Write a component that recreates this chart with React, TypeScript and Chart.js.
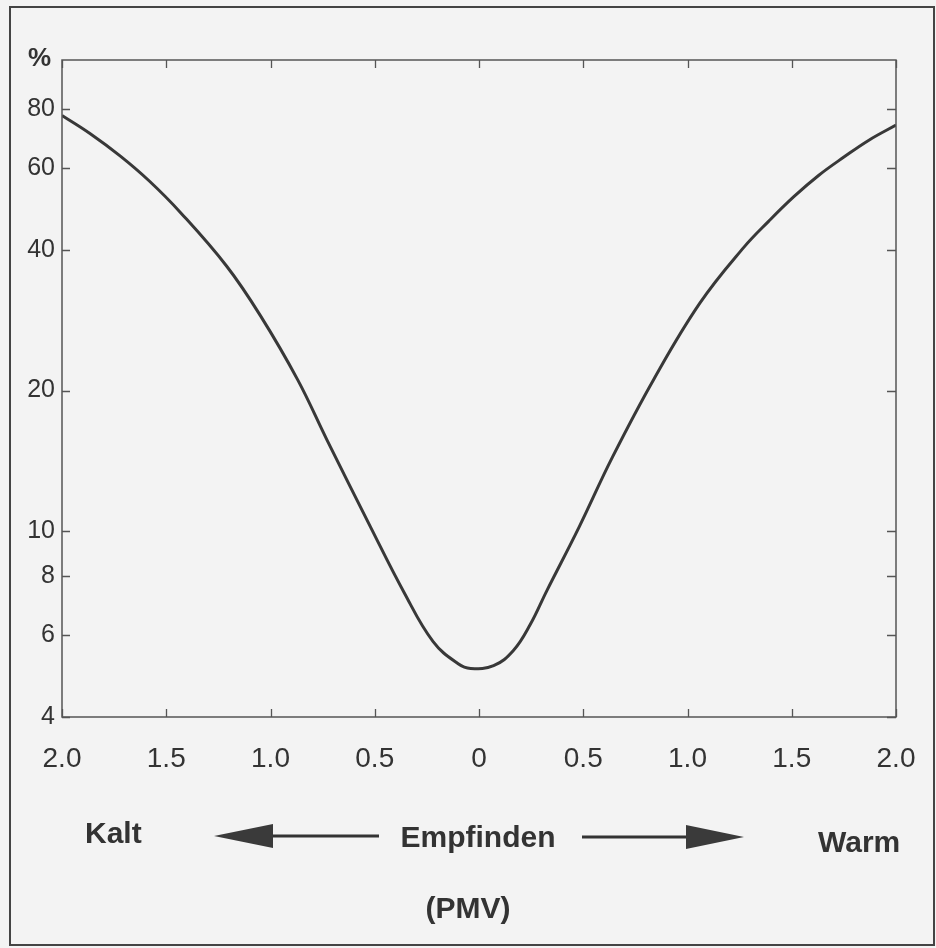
import React, { useEffect, useRef } from "react";
import { Chart, registerables } from "chart.js";

Chart.register(...registerables);

// PMV (predicted mean vote) positions
const pmvValues = [-2.0, -1.866, -1.72, -1.58, -1.43, -1.21, -1.05, -0.87, -0.73, -0.52, -0.36, -0.22, -0.10, -0.04, 0.07, 0.165, 0.245, 0.325, 0.48, 0.64, 0.84, 1.06, 1.27, 1.39, 1.51, 1.63, 1.75, 1.87, 2.0];
// PPD (%) values
const ppdValues = [77.6, 71.0, 63.5, 56.1, 48.0, 36.9, 29.0, 21.1, 15.7, 10.2, 7.4, 5.8, 5.2, 5.08, 5.15, 5.55, 6.3, 7.45, 10.2, 14.4, 21.2, 30.8, 40.5, 46.1, 52.0, 57.8, 63.2, 68.7, 74.0];

const xTickValues = [-2, -1.5, -1, -0.5, 0, 0.5, 1, 1.5, 2];
const yTickValues = [4, 6, 8, 10, 20, 40, 60, 80];

const yUnitLabel = "%";
const leftLabel = "Kalt";
const centerLabel = "Empfinden";
const rightLabel = "Warm";
const axisLabel = "(PMV)";

const INK = "#333333";
const BG = "#f3f3f3";
const FONT = "'Liberation Sans', Arial, Helvetica, sans-serif";

const decorPlugin = {
  id: "decor",
  beforeDraw(chart: any) {
    const ctx = chart.ctx;
    ctx.save();
    ctx.fillStyle = BG;
    ctx.fillRect(0, 0, chart.width, chart.height);
    ctx.restore();
  },
  afterDraw(chart: any) {
    const ctx = chart.ctx;
    const a = chart.chartArea;
    const xs = chart.scales.x;
    const ys = chart.scales.y;
    ctx.save();
    // plot box
    ctx.strokeStyle = "#555";
    ctx.lineWidth = 1.5;
    ctx.strokeRect(a.left, a.top, a.right - a.left, a.bottom - a.top);
    // inner ticks
    ctx.lineWidth = 1.3;
    ctx.beginPath();
    xTickValues.forEach((v) => {
      const px = Math.round(xs.getPixelForValue(v)) + 0.5;
      ctx.moveTo(px, a.bottom);
      ctx.lineTo(px, a.bottom - 8);
      ctx.moveTo(px, a.top);
      ctx.lineTo(px, a.top + 8);
    });
    yTickValues.forEach((v) => {
      const py = Math.round(ys.getPixelForValue(v)) + 0.5;
      ctx.moveTo(a.left, py);
      ctx.lineTo(a.left + 8, py);
      ctx.moveTo(a.right, py);
      ctx.lineTo(a.right - 9, py);
    });
    ctx.stroke();

    // unit label
    ctx.fillStyle = INK;
    ctx.font = `bold 26px ${FONT}`;
    ctx.textAlign = "right";
    ctx.textBaseline = "alphabetic";
    ctx.fillText(yUnitLabel, 51, 66);

    // bottom labels
    ctx.font = `bold 30px ${FONT}`;
    ctx.textAlign = "left";
    ctx.fillText(leftLabel, 85, 843);
    ctx.fillText(rightLabel, 818, 852);
    ctx.textAlign = "center";
    ctx.fillText(centerLabel, 478, 847);
    ctx.fillText(axisLabel, 468, 918);

    // arrows
    ctx.strokeStyle = INK;
    ctx.lineWidth = 3;
    ctx.beginPath();
    ctx.moveTo(268, 836);
    ctx.lineTo(379, 836);
    ctx.moveTo(582, 837);
    ctx.lineTo(690, 837);
    ctx.stroke();
    ctx.fillStyle = "#3a3a3a";
    ctx.beginPath();
    ctx.moveTo(214, 836);
    ctx.lineTo(273, 824);
    ctx.lineTo(273, 848);
    ctx.closePath();
    ctx.fill();
    ctx.beginPath();
    ctx.moveTo(744, 837);
    ctx.lineTo(686, 825);
    ctx.lineTo(686, 849);
    ctx.closePath();
    ctx.fill();

    // outer frame
    ctx.strokeStyle = "#444";
    ctx.lineWidth = 2;
    ctx.strokeRect(10, 7, 924, 938);
    ctx.restore();
  },
};

export default function App() {
  const canvasRef = useRef<HTMLCanvasElement | null>(null);

  useEffect(() => {
    if (!canvasRef.current) return;
    const points = pmvValues.map((x, i) => ({ x, y: ppdValues[i] }));
    const chart = new Chart(canvasRef.current, {
      type: "line",
      data: {
        datasets: [
          {
            data: points,
            borderColor: "#383838",
            borderWidth: 3,
            pointRadius: 0,
            fill: false,
            tension: 0.4,
            borderJoinStyle: "round",
          },
        ],
      },
      options: {
        animation: false,
        responsive: false,
        maintainAspectRatio: false,
        events: [],
        layout: { padding: { left: 0, top: 60, right: 40, bottom: 0 } },
        plugins: {
          legend: { display: false },
          tooltip: { enabled: false },
          title: { display: false },
        },
        scales: {
          x: {
            type: "linear",
            min: -2,
            max: 2,
            afterBuildTicks: (scale: any) => {
              scale.ticks = xTickValues.map((v) => ({ value: v }));
            },
            afterFit: (scale: any) => {
              scale.height = 948 - 717;
              scale.paddingLeft = 0;
              scale.paddingRight = 0;
            },
            grid: { display: false, drawTicks: false },
            border: { display: false },
            ticks: {
              padding: 25,
              color: INK,
              font: { family: FONT, size: 28 },
              maxRotation: 0,
              autoSkip: false,
              callback: (v: any) => {
                const n = Math.abs(Number(v));
                return n === 0 ? "0" : n.toFixed(1);
              },
            },
          },
          y: {
            type: "logarithmic",
            min: 4,
            max: 102,
            afterBuildTicks: (scale: any) => {
              scale.ticks = yTickValues.map((v) => ({ value: v }));
            },
            afterFit: (scale: any) => {
              scale.width = 62;
              scale.paddingTop = 0;
              scale.paddingBottom = 0;
            },
            grid: { display: false, drawTicks: false },
            border: { display: false },
            ticks: {
              padding: 7,
              color: INK,
              font: { family: FONT, size: 25 },
              autoSkip: false,
              callback: (v: any) => String(v),
            },
          },
        },
      },
      plugins: [decorPlugin],
    } as any);
    return () => chart.destroy();
  }, []);

  return (
    <div style={{ position: "fixed", left: 0, top: 0, width: 936, height: 948 }}>
      <canvas ref={canvasRef} width={936} height={948} style={{ display: "block", width: 936, height: 948 }} />
    </div>
  );
}
